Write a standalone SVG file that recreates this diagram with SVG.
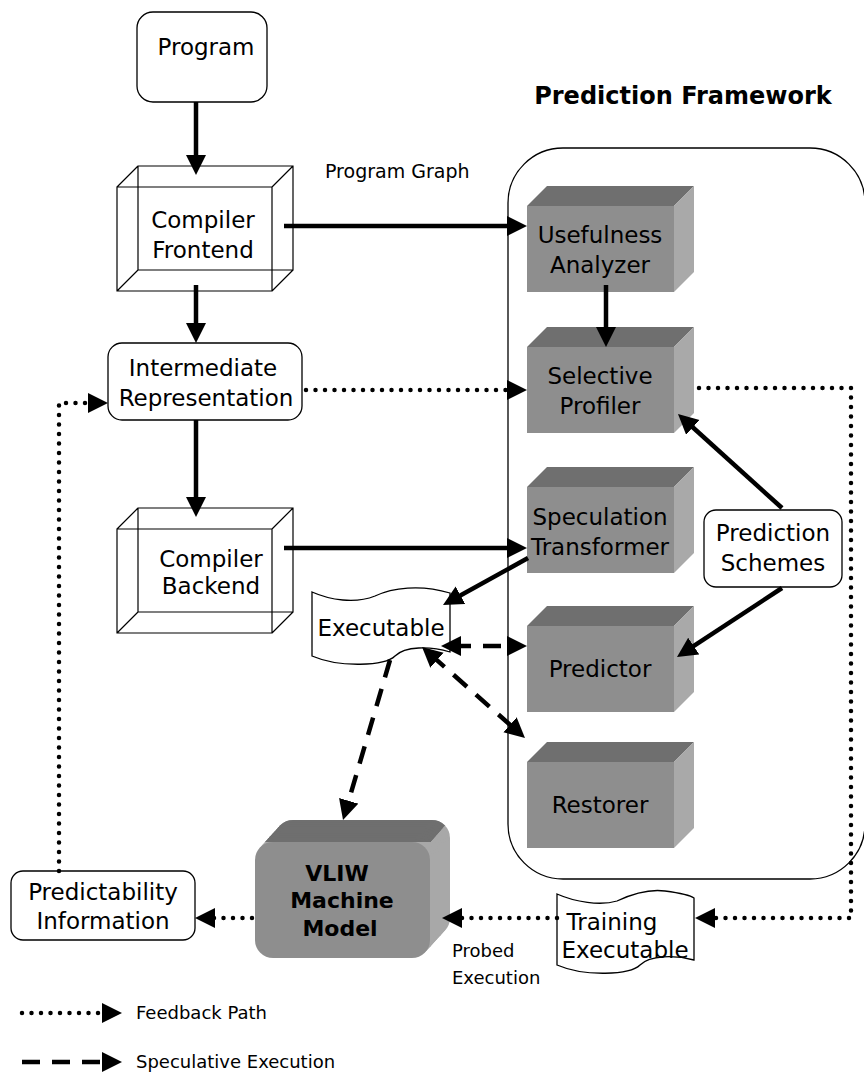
<svg xmlns="http://www.w3.org/2000/svg" width="864" height="1080" viewBox="0 0 864 1080">
  <defs>
    <style>
      .t { font-family: "DejaVu Sans", "Liberation Sans", sans-serif; font-size: 23px; fill: #000; text-anchor: middle; }
      .s { font-size: 18px; text-anchor: start; }
      .b { font-weight: bold; }
      .node { fill: #fff; stroke: #000; stroke-width: 1.3; }
      .wire { fill: none; stroke: #000; stroke-width: 1.2; }
      .front { fill: #8e8e8e; }
      .top { fill: #6f6f6f; }
      .side { fill: #a9a9a9; }
      .solid { fill: none; stroke: #000; stroke-width: 4.5; marker-end: url(#head); }
      .dash { fill: none; stroke: #000; stroke-width: 4.5; stroke-dasharray: 18 12; marker-end: url(#head); }
      .dot { fill: none; stroke: #000; stroke-width: 4.5; stroke-dasharray: 0 9.5; stroke-linecap: round; marker-end: url(#head); }
      .both { marker-start: url(#head); }
    </style>
    <marker id="head" markerUnits="userSpaceOnUse" markerWidth="22" markerHeight="22" refX="8" refY="10" orient="auto-start-reverse">
      <path d="M0,0 L20,10 L0,20 Z" fill="#000" stroke="none"/>
    </marker>
    <!-- one slice of the extruded machine-model block -->
    <rect id="vr" x="255" y="842" width="175" height="116" rx="18"/>
    <g id="vstack">
      <use href="#vr" transform="translate(20,-22)"/>
      <use href="#vr" transform="translate(18,-19.8)"/>
      <use href="#vr" transform="translate(16,-17.6)"/>
      <use href="#vr" transform="translate(14,-15.4)"/>
      <use href="#vr" transform="translate(12,-13.2)"/>
      <use href="#vr" transform="translate(10,-11)"/>
      <use href="#vr" transform="translate(8,-8.8)"/>
      <use href="#vr" transform="translate(6,-6.6)"/>
      <use href="#vr" transform="translate(4,-4.4)"/>
      <use href="#vr" transform="translate(2,-2.2)"/>
    </g>
    <clipPath id="vliwTop">
      <polygon points="240,800 468,800 430,842 240,842"/>
    </clipPath>
  </defs>

  <rect width="864" height="1080" fill="#fff"/>

  <!-- framework container and title -->
  <g id="framework">
    <rect x="508" y="148" width="357" height="731" rx="55" fill="none" stroke="#000" stroke-width="1.3"/>
    <text class="t b" x="683" y="104" style="font-size:24px">Prediction Framework</text>
  </g>

  <g id="program">
    <rect class="node" x="137" y="12" width="130" height="90" rx="16"/>
    <text class="t" x="206" y="55">Program</text>
  </g>

  <g id="compiler-frontend">
    <path class="wire" d="M117,187 h155 v104 h-155 z M138,166 h155 v104 h-155 z M117,187 l21,-21 M272,187 l21,-21 M272,291 l21,-21 M117,291 l21,-21"/>
    <text class="t" x="203" y="228">Compiler</text>
    <text class="t" x="203" y="258">Frontend</text>
  </g>

  <g id="intermediate-representation">
    <rect class="node" x="108" y="343" width="194" height="77" rx="14"/>
    <text class="t" x="203" y="376">Intermediate</text>
    <text class="t" x="206" y="406">Representation</text>
  </g>

  <g id="compiler-backend">
    <path class="wire" d="M117,529 h155 v104 h-155 z M138,508 h155 v104 h-155 z M117,529 l21,-21 M272,529 l21,-21 M272,633 l21,-21 M117,633 l21,-21"/>
    <text class="t" x="211" y="567">Compiler</text>
    <text class="t" x="211" y="594">Backend</text>
  </g>

  <g id="usefulness-analyzer">
    <polygon class="top" points="527,206 547,186 694,186 674,206"/>
    <polygon class="side" points="674,206 694,186 694,272 674,292"/>
    <rect class="front" x="527" y="206" width="147" height="86"/>
    <text class="t" x="600" y="243">Usefulness</text>
    <text class="t" x="600" y="273">Analyzer</text>
  </g>

  <g id="selective-profiler">
    <polygon class="top" points="527,347 547,327 694,327 674,347"/>
    <polygon class="side" points="674,347 694,327 694,413 674,433"/>
    <rect class="front" x="527" y="347" width="147" height="86"/>
    <text class="t" x="600" y="384">Selective</text>
    <text class="t" x="600" y="414">Profiler</text>
  </g>

  <g id="speculation-transformer">
    <polygon class="top" points="527,487 547,467 694,467 674,487"/>
    <polygon class="side" points="674,487 694,467 694,553 674,573"/>
    <rect class="front" x="527" y="487" width="147" height="86"/>
    <text class="t" x="600" y="525">Speculation</text>
    <text class="t" x="600" y="555">Transformer</text>
  </g>

  <g id="predictor">
    <polygon class="top" points="527,626 547,606 694,606 674,626"/>
    <polygon class="side" points="674,626 694,606 694,692 674,712"/>
    <rect class="front" x="527" y="626" width="147" height="86"/>
    <text class="t" x="600" y="677">Predictor</text>
  </g>

  <g id="restorer">
    <polygon class="top" points="527,762 547,742 694,742 674,762"/>
    <polygon class="side" points="674,762 694,742 694,828 674,848"/>
    <rect class="front" x="527" y="762" width="147" height="86"/>
    <text class="t" x="600" y="813">Restorer</text>
  </g>

  <g id="prediction-schemes">
    <rect class="node" x="704" y="510" width="138" height="77" rx="12"/>
    <text class="t" x="773" y="541">Prediction</text>
    <text class="t" x="773" y="571">Schemes</text>
  </g>

  <g id="executable">
    <path class="node" d="M312,592 C330,600 355,604 375,596 C392,588 420,584 450,593 L450,652 C430,646 405,646 395,656 C385,666 340,668 312,656 Z"/>
    <text class="t" x="381" y="636">Executable</text>
  </g>

  <g id="training-executable">
    <path class="node" d="M557,894 C575,902 600,906 617,901 C632,894 650,889 665,891 C680,893 690,895 694,898 L694,960 C675,955 650,955 640,965 C630,975 585,977 557,965 Z"/>
    <text class="t" x="612" y="930">Training</text>
    <text class="t" x="625" y="958">Executable</text>
  </g>

  <g id="vliw-machine-model">
    <g fill="#a8a8a8"><use href="#vstack"/></g>
    <g fill="#6f6f6f" clip-path="url(#vliwTop)"><use href="#vstack"/></g>
    <use href="#vr" fill="#8e8e8e"/>
    <text class="t b" x="337" y="881" style="font-size:22px">VLIW</text>
    <text class="t b" x="342" y="908" style="font-size:22px">Machine</text>
    <text class="t b" x="340" y="936" style="font-size:22px">Model</text>
  </g>

  <g id="predictability-information">
    <rect class="node" x="11" y="871" width="184" height="69" rx="12"/>
    <text class="t" x="103" y="900">Predictability</text>
    <text class="t" x="103" y="929">Information</text>
  </g>

  <g id="connectors">
    <path class="solid" d="M196,102 V163"/>
    <path class="solid" d="M284,226 H515"/>
    <text class="t s" x="325" y="178" style="font-size:19px">Program Graph</text>
    <path class="solid" d="M196,285 V331"/>
    <path class="solid" d="M606,285 V335"/>
    <path class="dot" d="M306,390 H515"/>
    <path class="solid" d="M196,420 V505"/>
    <path class="dot" d="M59,871 V403 H96"/>
    <path class="solid" d="M284,548 H515"/>
    <path class="solid" d="M528,558 L453.5,599.2"/>
    <path class="dash both" d="M453,646 H515"/>
    <path class="dash both" d="M431,654.9 L516,730.1"/>
    <path class="dash" d="M390,660 L346.4,808.5"/>
    <path class="solid" d="M782,508 L686.9,422"/>
    <path class="solid" d="M782,588 L687,650.4"/>
    <path class="dot" d="M699,388 H851 V918 H707"/>
    <path class="dot" d="M557,918 H454"/>
    <path class="dot" d="M252,918 H207"/>
    <text class="t s" x="452" y="957">Probed</text>
    <text class="t s" x="452" y="984">Execution</text>
  </g>

  <g id="legend">
    <path class="dot" d="M22,1013 H110"/>
    <text class="t s" x="136" y="1019">Feedback Path</text>
    <path class="dash" d="M22,1062 H110"/>
    <text class="t s" x="136" y="1068">Speculative Execution</text>
  </g>
</svg>
